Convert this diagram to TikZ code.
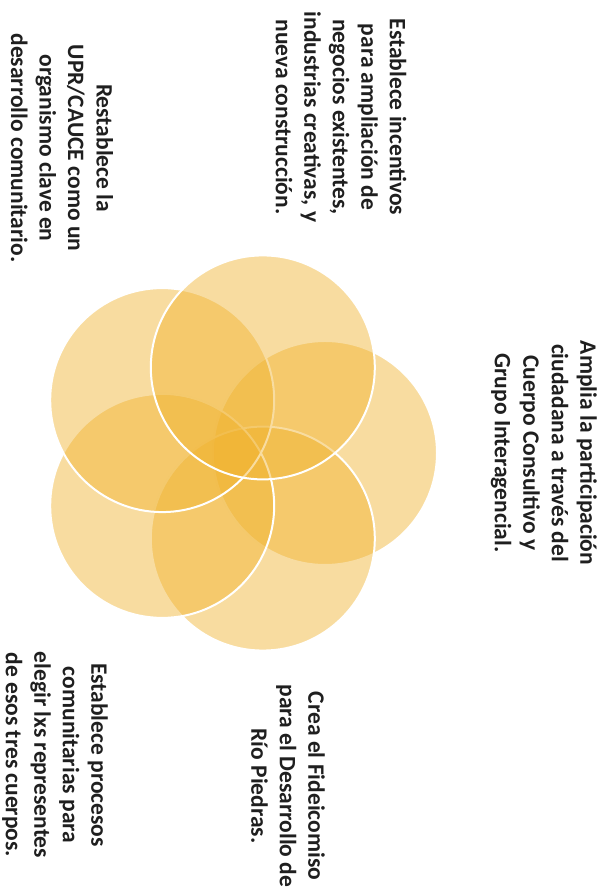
\documentclass[tikz,border=0pt]{standalone}
\usepackage{fontspec}
\setmainfont{Carlito}
\definecolor{petalorange}{RGB}{240,178,45}

\begin{document}
\begin{tikzpicture}[x=1pt,y=1pt,
  petal/.style={fill=petalorange,fill opacity=0.45,draw=white,line width=2pt},
  blurb/.style={rotate=-90,align=center,text=black!88,inner sep=0pt,
    font=\bfseries\fontsize{23.5}{28.5}\selectfont}]
\useasboundingbox (0,0) rectangle (610,896);

% five petals, right one first, top one last
\coordinate (c) at (235,443);
\foreach \a in {0,-72,...,-288}
  \draw[petal] (c) ++(\a:90) circle (112);

\node[blurb] (incentivos) at (341,779) {Establece incentivos\\para ampliación de\\negocios existentes,\\industrias creativas, y\\nueva construcción.};
\node[blurb] (upr) at (62,748) {Restablece la\\UPR/CAUCE como un\\organismo clave en\\desarrollo comunitario.};
\node[blurb] (amplia) at (544,443) {Amplia la participación\\ciudadana a través del\\Cuerpo Consultivo y\\Grupo Interagencial.};
\node[blurb] (fideicomiso) at (288,110) {Crea el Fideicomiso\\para el Desarrollo de\\Río Piedras.};
\node[blurb] (procesos) at (55,141) {Establece procesos\\comunitarias para\\elegir lxs representes\\de esos tres cuerpos.};
\end{tikzpicture}
\end{document}
